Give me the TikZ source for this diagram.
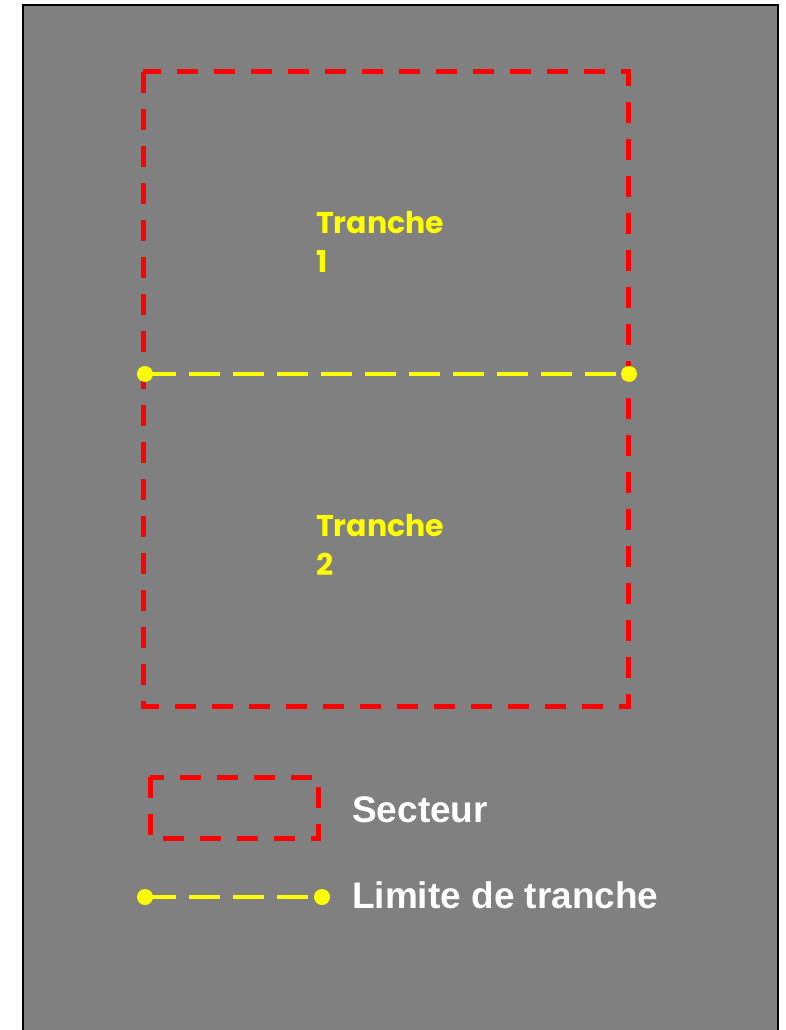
\documentclass[tikz,border=0pt]{standalone}
\usepackage{fontspec}
\usepackage{tikz}
\usetikzlibrary{positioning}
\newfontfamily\tranchefont{Poppins}
\newfontfamily\legendfont{Liberation Sans}
\definecolor{fond}{HTML}{808080}
\definecolor{rouge}{HTML}{FF0000}
\definecolor{jaune}{HTML}{FFFF00}
\tikzset{
	x=1pt, y=-1pt,
	secteur/.style={draw=rouge, line width=5pt, dash pattern=on 21pt off 16pt},
	limite/.style={draw=jaune, line width=4pt, dash pattern=on 31pt off 13pt},
	borne/.style={circle, fill=jaune, inner sep=0pt, minimum size=16pt},
	tranche/.style={text=jaune, align=left, inner sep=0pt, anchor=base west,
		font=\tranchefont\bfseries\fontsize{30}{39}\selectfont},
	legende/.style={text=white, inner sep=0pt, anchor=base west,
		font=\legendfont\bfseries\fontsize{37}{44}\selectfont},
}

\begin{document}
\begin{tikzpicture}
		\useasboundingbox[fill=white] (0,0) rectangle (785,1030);
		\fill[fond] (23,5) rectangle (778,1040);
		\draw[line width=2pt] (23,1040) -- (23,5) -- (778,5) -- (778,1040);

		% secteur et tranches
		\draw[secteur] (143,72) rectangle (628,706);
		\node[borne] (g1) at (145,374) {};
		\node[borne] (d1) at (629,374) {};
		\draw[limite] (g1.center) -- (d1.center);
		\node[tranche] (t1) at (316,272) {Tranche\\1};
		\node[tranche] (t2) at (316,575) {Tranche\\2};

		% legende
		\draw[secteur] (150,777) rectangle (318,838);
		\node[legende] (ls) at (352,822) {Secteur};
		\node[borne] (g2) at (145,897) {};
		\node[borne] (d2) at (322,897) {};
		\draw[limite] (g2.center) -- (d2.center);
		\node[legende] (ll) at (352,908) {Limite de tranche};
	\end{tikzpicture}
\end{document}
